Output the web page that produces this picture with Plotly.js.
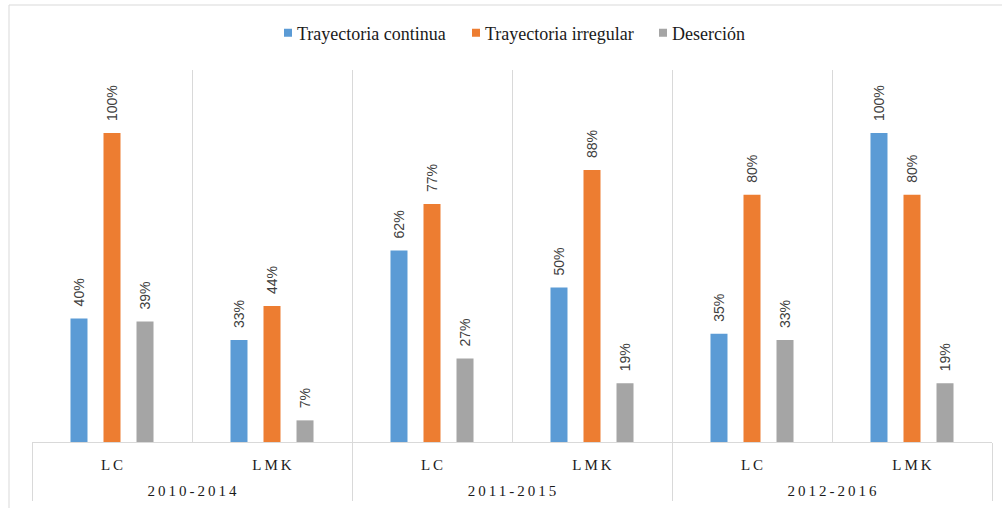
<!DOCTYPE html>
<html>
<head>
<meta charset="utf-8">
<script src="https://cdn.plot.ly/plotly-3.0.1.min.js"></script>
<style>
  html, body { margin: 0; padding: 0; background: #ffffff; }
  #chart { width: 1002px; height: 508px; }
</style>
</head>
<body>
<div id="chart"></div>
<script>
// Data
const periods = ['2010-2014', '2010-2014', '2011-2015', '2011-2015', '2012-2016', '2012-2016'];
const programs = ['LC', 'LMK', 'LC', 'LMK', 'LC', 'LMK'];
const seriesNames = ['Trayectoria continua', 'Trayectoria irregular', 'Deserción'];
const continua = [40, 33, 62, 50, 35, 100];
const irregular = [100, 44, 77, 88, 80, 80];
const desercion = [39, 7, 27, 19, 33, 19];

const colors = ['#5B9BD5', '#ED7D31', '#A5A5A5'];
const allSeries = [continua, irregular, desercion];

const traces = allSeries.map((vals, i) => ({
  type: 'bar',
  name: seriesNames[i],
  x: [periods, programs],
  y: vals,
  text: vals.map(v => v + '%'),
  textposition: 'outside',
  textangle: -90,
  constraintext: 'none',
  cliponaxis: false,
  textfont: { family: 'Liberation Sans, Arial, sans-serif', size: 14, color: '#404040' },
  marker: { color: colors[i] },
  hoverinfo: 'none'
}));

const W = 1002, H = 508;
const mL = 32, mR = 10, mT = 70, mB = 66;
const pw = W - mL - mR, ph = H - mT - mB;

const layout = {
  width: W, height: H,
  margin: { l: mL, r: mR, t: mT, b: mB, pad: 0 },
  paper_bgcolor: '#ffffff',
  plot_bgcolor: '#ffffff',
  barmode: 'group',
  bargap: 0.381,
  bargroupgap: 0.485,
  showlegend: true,
  legend: {
    orientation: 'h',
    x: 0.5, xanchor: 'center',
    y: (ph + mT - 33) / ph, yanchor: 'middle',
    font: { family: 'Liberation Serif, Times New Roman, serif', size: 18, color: '#1a1a1a' },
    itemclick: false
  },
  xaxis: {
    type: 'multicategory',
    range: [-0.5, 5.5],
    showgrid: true,
    gridcolor: '#d9d9d9',
    gridwidth: 1,
    tickson: 'boundaries',
    ticks: '',
    showline: true,
    linecolor: '#d9d9d9',
    linewidth: 1,
    showdividers: true,
    dividercolor: '#d9d9d9',
    dividerwidth: 1,
    tickfont: { family: 'Liberation Serif, Times New Roman, serif', size: 15, color: '#1a1a1a' }
  },
  yaxis: {
    range: [0, ph / 309 * 100],
    visible: false,
    showgrid: false,
    zeroline: false
  },
  shapes: [{
    type: 'rect',
    xref: 'paper', yref: 'paper',
    x0: (9 - mL) / pw, x1: (1010 - mL) / pw,
    y0: -(mB + 10) / ph, y1: (ph + mT - 5) / ph,
    line: { color: '#d9d9d9', width: 1 },
    fillcolor: 'rgba(0,0,0,0)',
    layer: 'below'
  }]
};

function shiftText(t, dx, dy) {
  const tr = t.getAttribute('transform') || '';
  t.setAttribute('transform', 'translate(' + dx + ',' + dy + ') ' + tr);
}

Plotly.newPlot('chart', traces, layout, { displayModeBar: false, staticPlot: true }).then(() => {
  const root = document.getElementById('chart');
  const rb = root.getBoundingClientRect();
  // lift data labels higher above the bars
  root.querySelectorAll('text.bartext').forEach(t => shiftText(t, 0, -9));
  // letter-spaced category labels, placed lower like the reference
  root.querySelectorAll('g.xtick text').forEach(t => {
    t.style.letterSpacing = '3px';
    t.setAttribute('dx', '1.5');
    const r = t.getBoundingClientRect();
    shiftText(t, 0, 465 - ((r.top + r.bottom) / 2 - rb.top));
  });
  root.querySelectorAll('g.xtick2 text').forEach(t => {
    t.style.letterSpacing = '3px';
    t.setAttribute('dx', '1.5');
    const r = t.getBoundingClientRect();
    shiftText(t, 0, 491 - ((r.top + r.bottom) / 2 - rb.top));
  });
  // extend dividers down to the bottom of the label area
  root.querySelectorAll('path.xdivider').forEach(p => {
    const r = p.getBoundingClientRect();
    const extra = 501 - (r.bottom - rb.top);
    const d = p.getAttribute('d') || '';
    const m = d.match(/v(-?[\d.]+)/);
    if (m) {
      const len = parseFloat(m[1]);
      p.setAttribute('d', d.replace(m[0], 'v' + (len + (len >= 0 ? extra : -extra))));
    }
  });
  // legend: tighter item spacing, small swatches close to the text
  const textStarts = [297, 485, 672];
  root.querySelectorAll('.legend .traces').forEach((g, i) => {
    const txt = g.querySelector('text.legendtext');
    if (!txt) return;
    const dx = textStarts[i] - (txt.getBoundingClientRect().left - rb.left);
    const tr = g.getAttribute('transform') || '';
    g.setAttribute('transform', 'translate(' + dx + ',0) ' + tr);
    const tLeft = txt.getBoundingClientRect().left;
    g.querySelectorAll('.legendpoints path').forEach(p => {
      p.setAttribute('d', 'M4,4H-4V-4H4Z');
      p.removeAttribute('transform');
      const pr = p.getBoundingClientRect();
      const cx = (pr.left + pr.right) / 2;
      p.setAttribute('transform', 'translate(' + (tLeft - 9 - cx) + ',0)');
    });
  });
});
</script>
</body>
</html>
